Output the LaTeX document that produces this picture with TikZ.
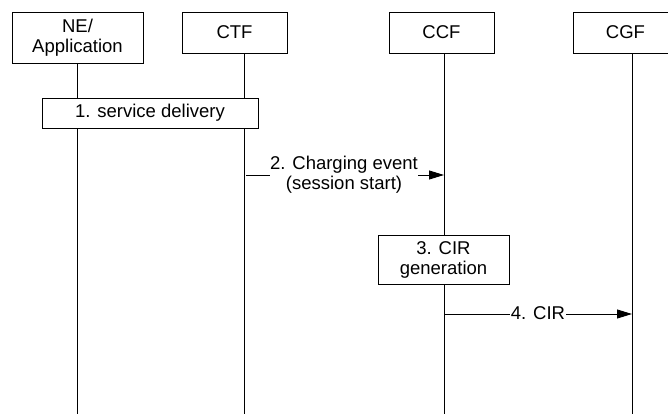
\documentclass[tikz,border=0pt]{standalone}
\usepackage{fontspec}
\setmainfont{Liberation Sans}
\usetikzlibrary{arrows.meta}

\tikzset{
  entity/.style={draw, fill=white, line width=0.9pt, inner sep=0pt,
                 align=center, font=\fontsize{18.5}{20}\selectfont},
  actionbox/.style={entity},
  lifeline/.style={line width=0.9pt},
  msg/.style={line width=0.9pt, -{Triangle[length=15pt,width=9pt]}},
  msglabel/.style={fill=white, inner ysep=0pt, inner xsep=1pt, align=center,
                   font=\fontsize{18.5}{20}\selectfont}
}

\begin{document}
\begin{tikzpicture}[x=1pt, y=-1pt]
  \clip (0,0) rectangle (668,414);
  \fill[white] (0,0) rectangle (668,414);

  % lifeline anchor points
  \coordinate (ne-top)  at (77,63);   \coordinate (ne-bot)  at (77,416);
  \coordinate (ctf-top) at (244,53);  \coordinate (ctf-bot) at (244,416);
  \coordinate (ccf-top) at (444,53);  \coordinate (ccf-bot) at (444,416);
  \coordinate (cgf-top) at (632,53);  \coordinate (cgf-bot) at (632,416);

  % lifelines
  \draw[lifeline] (ne-top)  -- (ne-bot);
  \draw[lifeline] (ctf-top) -- (ctf-bot);
  \draw[lifeline] (ccf-top) -- (ccf-bot);
  \draw[lifeline] (cgf-top) -- (cgf-bot);

  % entity headers
  \node[entity, minimum width=131pt, minimum height=51pt] (ne)  at (77.5,37.5) {NE/\\Application};
  \node[entity, minimum width=105pt, minimum height=41pt] (ctf) at (234.5,32.5) {CTF};
  \node[entity, minimum width=105pt, minimum height=41pt] (ccf) at (441.5,32.5) {CCF};
  \node[entity, minimum width=105pt, minimum height=41pt] (cgf) at (625.5,32.5) {CGF};

  % step 1: service delivery
  \node[actionbox, minimum width=216pt, minimum height=30pt] (svc) at (150,113) {1. service delivery};

  % step 2: charging event
  \coordinate (m2a) at (246,175);
  \coordinate (m2b) at (444,175);
  \draw[msg] (m2a) -- (m2b);
  \node[msglabel, inner xsep=0pt, anchor=north] (l2) at (344,156) {2. Charging event\\(session start)};

  % step 3: CIR generation
  \node[actionbox, minimum width=131pt, minimum height=49pt] (cir) at (443.5,259.5) {3. CIR\\generation};

  % step 4: CIR to CGF
  \coordinate (m4a) at (444,314);
  \coordinate (m4b) at (632,314);
  \draw[msg] (m4a) -- node[msglabel, anchor=base, yshift=-5pt] (l4) {4. CIR} (m4b);
\end{tikzpicture}
\end{document}
